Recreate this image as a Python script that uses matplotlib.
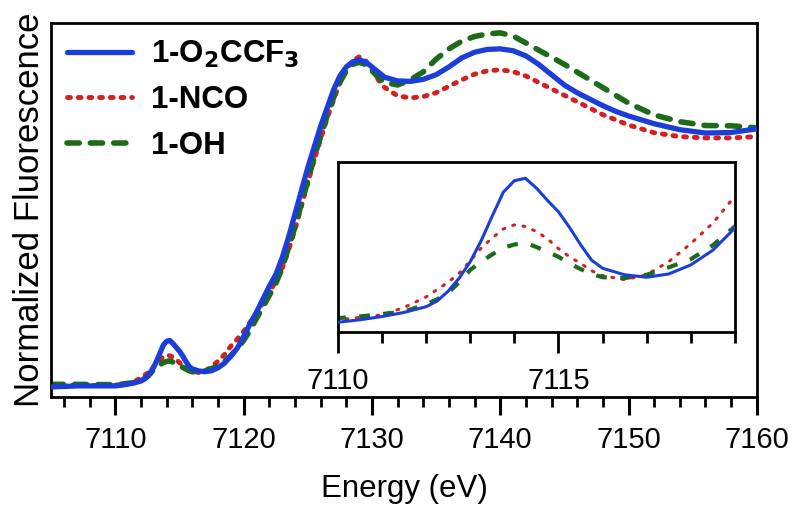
import matplotlib
matplotlib.use('Agg')
import matplotlib.pyplot as plt
from matplotlib.ticker import MultipleLocator

plt.rcParams['font.family'] = ['Liberation Sans', 'DejaVu Sans']

# energy grid (eV); finer steps across the pre-edge peak
energy = [7105, 7107, 7109, 7110, 7110.5, 7111, 7111.5, 7112, 7112.25, 7112.5, 7112.75,
          7113, 7113.25, 7113.5, 7113.75, 7114, 7114.25, 7114.5, 7114.75, 7115, 7115.25,
          7115.5, 7115.75, 7116, 7116.5, 7117, 7117.5, 7118, 7118.5, 7119,
          7119.5, 7120, 7120.5, 7121, 7121.5, 7122, 7122.5, 7123, 7123.5, 7124, 7124.5,
          7125, 7125.5, 7126, 7126.5, 7127, 7127.5, 7128, 7128.5, 7129, 7129.5, 7130,
          7130.5, 7131, 7132, 7133, 7134, 7135, 7136, 7137, 7138, 7139, 7140, 7141,
          7142, 7143, 7144, 7145, 7146, 7147, 7148, 7149, 7150, 7152, 7154, 7156,
          7158, 7160]

o2ccf3 = [0.000, 0.004, 0.004, 0.004, 0.007, 0.011, 0.016, 0.023, 0.030, 0.042, 0.058,
          0.078, 0.104, 0.134, 0.163, 0.177, 0.180, 0.168, 0.153, 0.139, 0.120,
          0.099, 0.080, 0.070, 0.062, 0.059, 0.063, 0.074, 0.092, 0.119,
          0.150, 0.195, 0.245, 0.290, 0.340, 0.390, 0.435, 0.500, 0.580, 0.670, 0.760,
          0.850, 0.930, 1.010, 1.080, 1.150, 1.205, 1.240, 1.260, 1.267, 1.260, 1.240,
          1.220, 1.200, 1.186, 1.184, 1.192, 1.210, 1.240, 1.275, 1.297, 1.308, 1.310, 1.303,
          1.283, 1.250, 1.210, 1.170, 1.140, 1.115, 1.090, 1.068, 1.050, 1.020, 0.997, 0.984,
          0.986, 1.000]

nco = [0.005, 0.006, 0.006, 0.007, 0.010, 0.013, 0.022, 0.035, 0.044, 0.053, 0.064,
       0.079, 0.095, 0.107, 0.118, 0.123, 0.121, 0.115, 0.106, 0.094, 0.084,
       0.076, 0.067, 0.061, 0.056, 0.062, 0.078, 0.100, 0.125, 0.158,
       0.185, 0.215, 0.250, 0.285, 0.325, 0.365, 0.410, 0.460, 0.530, 0.610, 0.700,
       0.790, 0.880, 0.960, 1.040, 1.110, 1.180, 1.230, 1.265, 1.279, 1.265, 1.230,
       1.190, 1.160, 1.128, 1.120, 1.125, 1.140, 1.165, 1.190, 1.212, 1.225, 1.229, 1.222,
       1.205, 1.180, 1.155, 1.130, 1.105, 1.080, 1.055, 1.035, 1.015, 0.985, 0.970, 0.965,
       0.965, 0.970]

oh = [0.010, 0.010, 0.009, 0.009, 0.011, 0.014, 0.017, 0.026, 0.032, 0.040, 0.053,
      0.068, 0.078, 0.087, 0.095, 0.099, 0.101, 0.096, 0.090, 0.084, 0.076,
      0.069, 0.063, 0.059, 0.058, 0.062, 0.071, 0.081, 0.098, 0.121,
      0.150, 0.180, 0.220, 0.265, 0.310, 0.355, 0.400, 0.460, 0.540, 0.620, 0.710,
      0.800, 0.890, 0.970, 1.050, 1.120, 1.180, 1.225, 1.250, 1.258, 1.250, 1.225,
      1.200, 1.180, 1.170, 1.190, 1.221, 1.270, 1.310, 1.340, 1.358, 1.368, 1.372, 1.360,
      1.333, 1.305, 1.278, 1.250, 1.220, 1.190, 1.160, 1.130, 1.100, 1.054, 1.028, 1.013,
      1.012, 1.004]

blue = '#1c3ed8'
red = '#d42020'
green = '#1b6b1b'

fig = plt.figure(figsize=(8, 5.14), dpi=100)
ax = fig.add_axes([0.064, 0.2276, 0.882, 0.728])

ax.plot(energy, o2ccf3, color=blue, lw=3.8, solid_capstyle='round', solid_joinstyle='round',
        label=r'1-O$_\mathbf{2}$CCF$_\mathbf{3}$', zorder=3)
ax.plot(energy, nco, color=red, lw=3.5, linestyle=(0, (0.6, 1.6)), dash_capstyle='round', label='1-NCO', zorder=2)
ax.plot(energy, oh, color=green, lw=4, linestyle=(0, (2.2, 2.0)), dash_capstyle='round', label='1-OH', zorder=2)

ax.set_xlim(7105, 7160)
ax.set_ylim(-0.039, 1.411)
ax.set_yticks([])
ax.xaxis.set_major_locator(MultipleLocator(10))
ax.xaxis.set_minor_locator(MultipleLocator(2))
ax.tick_params(axis='x', which='major', direction='out', length=13, width=2.2, labelsize=21, pad=8)
ax.tick_params(axis='x', which='minor', direction='out', length=7, width=2)
for s in ax.spines.values():
    s.set_linewidth(2)
ax.set_xlabel('Energy (eV)', fontsize=22.5, labelpad=14)
ax.set_ylabel('Normalized Fluorescence', fontsize=25, labelpad=4)

leg = ax.legend(loc='upper left', frameon=False, handlelength=2.1, borderaxespad=0.1,
                labelspacing=0.5, handletextpad=0.6,
                prop={'weight': 'bold', 'size': 22.5})

# inset: pre-edge zoom
axi = fig.add_axes([0.4225, 0.354, 0.496, 0.331])
axi.plot(energy, o2ccf3, color=blue, lw=2.2, solid_joinstyle='round', zorder=3)
axi.plot(energy, nco, color=red, lw=2.2, linestyle=(0, (0.6, 2.8)), dash_capstyle='round', zorder=2)
axi.plot(energy, oh, color=green, lw=3, linestyle=(0, (2.6, 3.2)), zorder=2)
axi.set_xlim(7110, 7119)
axi.set_ylim(-0.008, 0.2)
axi.set_yticks([])
axi.xaxis.set_major_locator(MultipleLocator(5))
axi.xaxis.set_minor_locator(MultipleLocator(1))
axi.tick_params(axis='x', which='major', direction='out', length=15, width=2, labelsize=21, pad=10)
axi.tick_params(axis='x', which='minor', direction='out', length=8, width=2)
for s in axi.spines.values():
    s.set_linewidth(2)

fig.savefig('out.png', dpi=100)
